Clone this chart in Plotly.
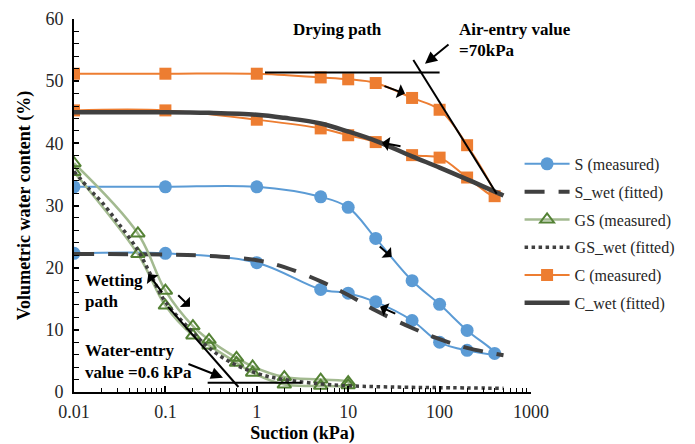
import math
import plotly.graph_objects as go

# ---------------- data ----------------
# S (measured): drying 0.01 -> 400 kPa, then wetting back to 0.01 kPa
s_x = [0.01, 0.1, 1, 5, 10, 20, 50, 100, 200, 400, 200, 100, 50, 20, 10, 5, 1, 0.1, 0.01]
s_y = [33.0, 33.0, 33.0, 31.4, 29.7, 24.7, 17.9, 14.1, 9.9, 6.2, 6.7, 8.0, 11.5, 14.5, 15.9, 16.5, 20.8, 22.3, 22.3]

# S_wet (fitted)
swet_x = [0.01, 0.1, 0.3, 1, 2, 5, 10, 20, 50, 100, 200, 500]
swet_y = [22.2, 22.1, 21.9, 21.2, 20.1, 17.8, 15.6, 13.1, 10.3, 8.5, 7.1, 5.9]

# GS (measured)
gs_x = [0.01, 0.05, 0.1, 0.2, 0.3, 0.6, 0.9, 2, 5, 10, 10, 5, 2, 0.9, 0.6, 0.3, 0.2, 0.1, 0.05, 0.01]
gs_y = [36.8, 25.5, 16.3, 10.6, 8.4, 5.5, 4.1, 2.4, 2.0, 1.6, 1.1, 1.0, 1.2, 3.1, 4.7, 7.5, 9.1, 13.9, 22.2, 35.4]

# GS_wet (fitted)
gswet_x = [0.01, 0.015, 0.02, 0.03, 0.05, 0.07, 0.1, 0.2, 0.3, 0.5, 1, 2, 5, 10, 50, 100, 500]
gswet_y = [35.5, 32.5, 30.6, 27.3, 22.8, 18.7, 14.5, 9.6, 7.1, 4.9, 3.0, 2.0, 1.3, 1.0, 0.75, 0.7, 0.6]

# C (measured)
c_x = [0.01, 0.1, 1, 5, 10, 20, 50, 100, 200, 400, 200, 100, 50, 20, 10, 5, 1, 0.1, 0.01]
c_y = [51.2, 51.2, 51.2, 50.6, 50.3, 49.7, 47.3, 45.4, 39.7, 31.5, 34.5, 37.7, 38.1, 40.2, 41.3, 42.4, 43.8, 45.3, 45.3]

# C_wet (fitted)
cwet_x = [0.01, 0.1, 0.3, 1, 2, 5, 10, 20, 50, 100, 200, 500]
cwet_y = [45.0, 45.0, 44.9, 44.6, 44.1, 43.2, 41.9, 40.4, 37.9, 36.1, 34.2, 31.6]

# construction lines (air-entry / water-entry)
air_h_x, air_h_y = [1.23, 100], [51.4, 51.4]
air_s_x, air_s_y = [51.6, 421], [53.4, 31.9]
wat_h_x, wat_h_y = [0.29, 3.1], [1.5, 1.5]
wat_s_x, wat_s_y = [0.107, 0.63], [13.7, 0.8]

x_tickvals = [0.01, 0.1, 1, 10, 100, 1000]
x_ticktext = ["0.01", "0.1", "1", "10", "100", "1000"]

FONT = "Liberation Serif, Times New Roman, serif"
BLUE = "#5B9BD5"
ORANGE = "#ED7D31"
GREEN_LINE = "#A3BA90"
GREEN_MARK = "#548235"
DARK = "#404040"

# page body has an 8px default margin, so the figure is 8px smaller
W, H = 687, 436
ML, MR, MT, MB = 66, 164, 11, 52
PW, PH = W - ML - MR, H - MT - MB   # 457 x 373

fig = go.Figure()

fig.add_trace(go.Scatter(x=s_x, y=s_y, name="S (measured)", mode="lines+markers",
                         line=dict(color=BLUE, width=2, shape="spline"),
                         marker=dict(symbol="circle", size=13, color=BLUE),
                         legendgroup="a"))
fig.add_trace(go.Scatter(x=swet_x, y=swet_y, name="S_wet (fitted)", mode="lines",
                         line=dict(color=DARK, width=4, dash="20px,14px", shape="spline"),
                         legendgroup="b"))
fig.add_trace(go.Scatter(x=gs_x, y=gs_y, name="GS (measured)", mode="lines+markers",
                         line=dict(color=GREEN_LINE, width=2.5, shape="spline"),
                         marker=dict(symbol="triangle-up-open", size=12, color=GREEN_MARK,
                                     line=dict(width=2, color=GREEN_MARK)),
                         legendgroup="c"))
fig.add_trace(go.Scatter(x=gswet_x, y=gswet_y, name="GS_wet (fitted)", mode="lines",
                         line=dict(color=DARK, width=3.5, dash="dot", shape="spline"),
                         legendgroup="d"))
fig.add_trace(go.Scatter(x=c_x, y=c_y, name="C (measured)", mode="lines+markers",
                         line=dict(color=ORANGE, width=2, shape="spline"),
                         marker=dict(symbol="square", size=12, color=ORANGE),
                         legendgroup="e"))
fig.add_trace(go.Scatter(x=cwet_x, y=cwet_y, name="C_wet (fitted)", mode="lines",
                         line=dict(color=DARK, width=4.5, shape="spline"),
                         legendgroup="f"))

for lx, ly in [(air_h_x, air_h_y), (air_s_x, air_s_y), (wat_h_x, wat_h_y), (wat_s_x, wat_s_y)]:
    fig.add_trace(go.Scatter(x=lx, y=ly, mode="lines", showlegend=False,
                             line=dict(color="black", width=2), hoverinfo="skip"))

# arrows: (tail_x, tail_y, head_x, head_y, head style)
arrows = [
    (130.0, 56.1, 69.2, 52.8, 2),    # air-entry pointer
    (0.172, 4.6, 0.427, 2.3, 2),     # water-entry pointer
    (24.0, 49.3, 41.8, 48.0, 1),     # C drying
    (38.8, 39.5, 23.4, 40.1, 1),     # C wetting
    (21.3, 23.6, 29.9, 21.7, 1),     # S drying
    (34.0, 12.5, 22.3, 13.7, 1),     # S wetting
    (0.0948, 15.8, 0.065, 19.0, 1),  # GS wetting
    (0.133, 15.8, 0.186, 13.7, 1),   # GS drying
]
for tx, ty, hx, hy, hs in arrows:
    fig.add_annotation(x=math.log10(hx), y=hy, ax=math.log10(tx), ay=ty,
                       xref="x", yref="y", axref="x", ayref="y",
                       showarrow=True, arrowhead=hs, arrowsize=1.2, arrowwidth=2,
                       arrowcolor="black", text="")

# text labels (screen pixel positions converted to paper coords)
def px(xp):
    return (xp - 74) / PW

def py(yp):
    return (392 - yp) / PH

labels = [
    ("<b>Drying path</b>", 337, 29, "center"),
    ("<b>Air-entry value</b>", 457, 29, "left"),
    ("<b>=70kPa</b>", 457, 51, "left"),
    ("<b>Wetting</b>", 83, 280, "left"),
    ("<b>path</b>", 83, 301, "left"),
    ("<b>Water-entry</b>", 83, 350, "left"),
    ("<b>value =0.6 kPa</b>", 83, 372, "left"),
]
for t, xx, yy, anc in labels:
    fig.add_annotation(x=px(xx), y=py(yy), xref="paper", yref="paper", text=t,
                       showarrow=False, xanchor=anc, yanchor="middle",
                       font=dict(family=FONT, size=17, color="black"))

fig.update_layout(
    width=W, height=H,
    margin=dict(l=ML, r=MR, t=MT, b=MB),
    paper_bgcolor="white", plot_bgcolor="white",
    font=dict(family=FONT, size=18, color="#262626"),
    legend=dict(x=0.975, y=0.657, xanchor="left", yanchor="top",
                font=dict(family=FONT, size=16, color="#262626"),
                itemwidth=45,
                tracegroupgap=4, bgcolor="rgba(0,0,0,0)"),
    showlegend=True,
)
fig.update_xaxes(type="log", range=[-2, 3], tickvals=x_tickvals, ticktext=x_ticktext,
                 automargin=False,
                 showline=True, linecolor="black", linewidth=2, showgrid=False, zeroline=False,
                 ticks="inside", ticklen=6, tickwidth=1.5, tickcolor="black",
                 minor=dict(ticks="inside", ticklen=4, tickwidth=1, tickcolor="black",
                            dtick="D1", showgrid=False),
                 tickfont=dict(family=FONT, size=18, color="#262626"),
                 ticklabelstandoff=2,
                 title=dict(text="<b>Suction (kPa)</b>", standoff=8,
                            font=dict(family=FONT, size=18, color="black")))
fig.update_yaxes(range=[0, 60], dtick=10, automargin=False,
                 showline=True, linecolor="black", linewidth=2, showgrid=False, zeroline=False,
                 ticks="inside", ticklen=5, tickwidth=1.5, tickcolor="black",
                 minor=dict(ticks="inside", ticklen=5, tickwidth=1, tickcolor="black",
                            dtick=2, showgrid=False),
                 tickfont=dict(family=FONT, size=18, color="#262626"),
                 ticklabelstandoff=5,
                 title=dict(text="<b>Volumetric water content (%)</b>", standoff=10,
                            font=dict(family=FONT, size=18, color="black")))

fig.write_html("out.html")
